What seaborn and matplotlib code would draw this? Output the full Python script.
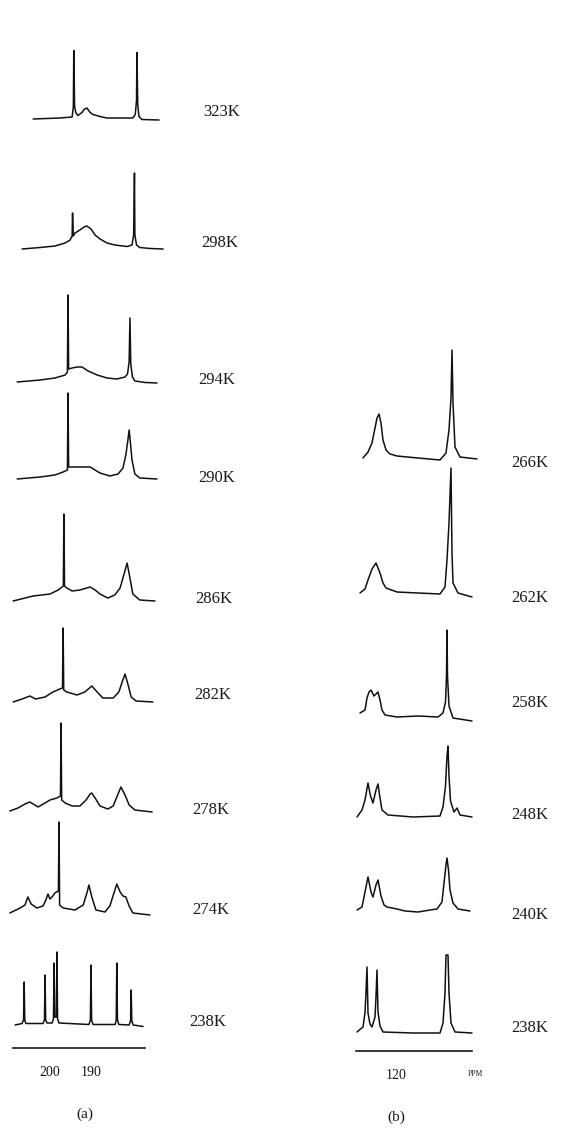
import pandas as pd
import matplotlib.pyplot as plt
import seaborn as sns

sns.set_theme(style='white')
plt.rcParams['font.family'] = ['Liberation Serif', 'DejaVu Serif']

W, H = 562, 1136

# ---- panel (a): (ppm, intensity) ----
a323 = [(204.1, -0.5), (197.6, 0.5), (194.6, 1.5), (194.3, 12), (194.2, 68), (194.0, 12), (193.7, 6),
        (193.2, 3), (192.2, 6), (191.7, 9), (191.0, 10.5), (190.2, 6), (189.5, 4), (187.8, 2), (186.1, 0.5),
        (179.8, 0.5), (179.2, 4), (178.9, 18), (178.8, 66), (178.6, 14), (178.3, 2), (177.6, -1), (173.4, -1.5)]
a298 = [(206.8, -1), (202.4, 0.5), (198.8, 2), (196.3, 5), (195.1, 8), (194.6, 12), (194.5, 35), (194.3, 12),
        (193.9, 15), (192.7, 18), (191.7, 21), (191.0, 22), (190.0, 19), (189.0, 13), (187.8, 9), (186.1, 5),
        (184.2, 3), (181.2, 1.5), (180.0, 3), (179.6, 13), (179.4, 75), (179.3, 13), (178.9, 3), (178.1, 0.5),
        (175.6, -0.5), (172.4, -1)]
a294 = [(208.0, 0), (202.4, 2), (198.8, 4), (196.3, 7), (195.75, 10), (195.6, 87), (195.45, 13), (194.6, 14),
        (193.4, 15), (192.2, 15), (190.7, 11), (188.5, 7), (186.1, 4), (183.7, 3), (181.7, 5), (181.1, 8),
        (180.7, 20), (180.5, 64), (180.3, 18), (179.9, 5), (179.3, 1), (176.8, -0.5), (173.9, -1)]
a290 = [(208.0, 0), (202.4, 2), (198.8, 4), (196.8, 7), (195.75, 9), (195.6, 86), (195.45, 12), (194.6, 12),
        (192.7, 12), (190.2, 12), (189.0, 9), (187.8, 6), (185.4, 3), (183.4, 5), (182.2, 11), (181.5, 24),
        (181.0, 39), (180.7, 49), (180.45, 39), (180.0, 19), (179.3, 5), (178.1, 1), (173.9, 0)]
a286 = [(209.0, -1), (204.1, 4), (200.0, 6), (198.0, 10), (196.75, 14), (196.6, 86), (196.45, 14), (195.9, 12),
        (194.6, 9), (192.7, 10), (190.2, 13), (189.0, 10), (187.8, 6), (185.9, 2), (184.2, 5), (182.9, 12),
        (182.0, 25), (181.2, 37), (180.5, 22), (179.8, 6), (178.1, 0), (174.4, -1)]
a282 = [(209.0, 0), (206.8, 3), (204.9, 6), (203.5, 3), (201.2, 5), (199.3, 10), (197.6, 13), (196.95, 14),
        (196.8, 74), (196.65, 12), (195.9, 10), (193.4, 7), (191.5, 10), (189.8, 16), (188.5, 10), (187.1, 4),
        (184.6, 4), (183.2, 10), (182.4, 20), (181.7, 28), (181.0, 18), (180.2, 5), (179.0, 1), (174.9, 0)]
a278 = [(209.8, -1), (207.8, 2), (206.1, 6), (204.9, 8), (202.9, 3), (201.2, 7), (200.0, 10), (198.3, 12),
        (197.45, 14), (197.3, 87), (197.15, 10), (196.3, 7), (194.6, 4), (192.7, 4), (191.2, 10), (190.2, 16),
        (189.8, 17), (189.0, 12), (187.8, 4), (185.9, 1), (184.6, 4), (183.7, 13), (182.7, 23), (181.7, 15),
        (180.7, 5), (179.3, 0), (175.1, -2)]
a274 = [(209.8, -1), (207.3, 4), (206.1, 7), (205.4, 15), (204.6, 8), (203.2, 4), (201.7, 6), (201.0, 12),
        (200.5, 18), (200.0, 13), (199.3, 16), (198.8, 19), (197.95, 21), (197.8, 90), (197.65, 7), (196.8, 4),
        (193.9, 2), (191.9, 7), (191.0, 19), (190.5, 27), (189.8, 15), (188.8, 2), (186.6, 0), (185.4, 6),
        (184.4, 19), (183.7, 28), (182.9, 20), (182.2, 16), (181.5, 15), (180.7, 6), (179.8, -1), (175.6, -3)]
a238 = [(208.5, 0), (206.8, 1.5), (206.45, 5), (206.3, 43), (206.15, 5), (205.9, 1.5), (201.7, 1.5),
        (201.35, 5), (201.2, 50), (201.05, 5), (200.7, 2), (199.5, 2), (199.15, 6), (199.0, 62), (198.85, 8),
        (198.45, 8), (198.3, 73), (198.15, 6), (197.8, 2), (190.5, 0.5), (190.15, 5), (190.0, 60), (189.85, 5),
        (189.5, 0.5), (184.1, 0.5), (183.85, 5), (183.7, 62), (183.55, 5), (183.2, 0.5), (180.7, 0),
        (180.35, 4), (180.2, 35), (180.05, 4), (179.7, 0), (177.3, -1.5)]

temps_a = ['323K', '298K', '294K', '290K', '286K', '282K', '278K', '274K', '238K']
spectra_a = [a323, a298, a294, a290, a286, a282, a278, a274, a238]
ticks_a = [200, 190]

# ---- panel (b) ----
b266 = [(133.2, 0), (131.2, 6), (129.6, 15), (128.4, 30), (127.6, 40), (126.8, 44), (126.0, 35), (125.2, 18),
        (124.0, 8), (122.4, 4), (119.6, 2), (111.2, 0), (102.4, -2), (100.0, 5), (98.8, 28), (98.0, 60),
        (97.6, 108), (97.2, 55), (96.4, 11), (94.4, 1), (87.6, -1)]
b262 = [(134.4, 0), (132.4, 4), (131.2, 13), (129.6, 24), (128.0, 30), (126.4, 20), (125.2, 10), (124.0, 5),
        (119.6, 1), (111.2, 0), (102.4, -1), (100.4, 6), (99.6, 33), (98.8, 70), (98.0, 125), (97.6, 40),
        (97.2, 10), (95.2, 0), (89.6, -4)]
b258 = [(134.4, 3), (132.4, 6), (131.6, 18), (130.8, 24), (130.0, 26), (128.8, 20), (128.0, 22), (127.2, 24),
        (126.4, 16), (125.6, 6), (124.4, 1), (119.6, -1), (111.2, 0), (103.2, -1), (101.2, 3), (100.2, 14),
        (99.8, 40), (99.6, 86), (99.4, 40), (98.8, 10), (97.2, -2), (89.6, -5)]
b248 = [(135.6, -1), (133.6, 6), (132.4, 16), (131.2, 33), (130.2, 20), (129.2, 13), (128.0, 26), (127.2, 32),
        (126.4, 18), (125.6, 6), (123.2, 1), (113.2, -1), (102.4, 0), (101.2, 9), (100.2, 30), (99.6, 60),
        (99.2, 70), (98.8, 40), (98.2, 15), (96.8, 4), (95.6, 8), (94.4, 1), (89.6, -1)]
b240 = [(135.6, 0), (133.6, 3), (132.4, 18), (131.2, 33), (130.0, 18), (129.2, 13), (128.0, 25), (127.2, 30),
        (126.0, 14), (124.8, 5), (123.6, 3), (119.6, 1), (116.4, -1), (111.2, -2), (106.4, 0), (103.6, 1),
        (101.6, 8), (100.8, 27), (100.0, 45), (99.6, 52), (99.0, 40), (98.4, 20), (97.2, 7), (95.2, 1),
        (90.4, -1)]
b238 = [(135.6, 0), (133.2, 5), (132.4, 19), (132.0, 40), (131.6, 65), (131.2, 19), (130.4, 8), (129.6, 5),
        (128.4, 15), (128.0, 35), (127.6, 62), (127.2, 20), (126.4, 6), (125.2, 0), (113.2, -1), (102.4, -1),
        (101.2, 9), (100.4, 39), (100.0, 77), (99.2, 77), (98.8, 39), (98.0, 9), (96.4, 0), (89.6, -1)]

temps_b = ['266K', '262K', '258K', '248K', '240K', '238K']
spectra_b = [b266, b262, b258, b248, b240, b238]
ticks_b = [120]

# ---- layout (pixel rows of each baseline / label) ----
base_a = [118.5, 248, 382, 479, 600, 702, 810, 912, 1025]
lab_a = [(222, 112), (220, 243), (217, 380), (217, 478), (214, 599), (213, 695), (211, 810), (211, 910), (208, 1022)]
base_b = [458, 593, 716, 816, 910, 1032]
lab_b = [(530, 463), (530, 598), (530, 703), (530, 815), (530, 915), (530, 1028)]

fig = plt.figure(figsize=(W / 100, H / 100), dpi=100)


def px_axes(x0, x1, y_top, y_bot):
    return fig.add_axes([x0 / W, 1 - y_bot / H, (x1 - x0) / W, (y_bot - y_top) / H])


def draw_panel(ax, spectra, bases, labels, temps, axis_row, xlim, ticks):
    for spec, base, lab, temp in zip(spectra, bases, labels, temps):
        df = pd.DataFrame(spec, columns=['ppm', 'intensity'])
        df['y'] = df['intensity'] + (axis_row - base)
        sns.lineplot(data=df, x='ppm', y='y', sort=False, estimator=None,
                     color='#111111', linewidth=1.1, ax=ax)
        fig.text(lab[0] / W, 1 - lab[1] / H, temp, ha='center', va='center',
                 fontsize=12, color='#1a1a1a')
    for ln in ax.get_lines():
        ln.set_clip_on(False)
    ax.set_xlim(*xlim)
    ax.set_ylim(0, axis_row - 40)
    ax.set_xticks(ticks)
    ax.set_xticklabels([str(t) for t in ticks])
    ax.set_yticks([])
    ax.set_xlabel('')
    ax.set_ylabel('')
    for s in ['top', 'left', 'right']:
        ax.spines[s].set_visible(False)
    ax.spines['bottom'].set_color('#151515')
    ax.spines['bottom'].set_linewidth(1.2)
    ax.tick_params(axis='x', length=2, width=0.8, pad=11, labelsize=10, colors='#151515')
    ax.patch.set_alpha(0)


ax_a = px_axes(13, 145, 40, 1048)
draw_panel(ax_a, spectra_a, base_a, lab_a, temps_a, 1048, (209.02, 176.83), ticks_a)

ax_b = px_axes(356, 472, 40, 1051)
draw_panel(ax_b, spectra_b, base_b, lab_b, temps_b, 1051, (136.0, 89.6), ticks_b)

fig.text(475 / W, 1 - 1074 / H, 'PPM', ha='center', va='center', fontsize=5.5, color='#1a1a1a')
fig.text(85 / W, 1 - 1114 / H, '(a)', ha='center', va='center', fontsize=11, color='#1a1a1a')
fig.text(396 / W, 1 - 1117 / H, '(b)', ha='center', va='center', fontsize=11, color='#1a1a1a')

fig.savefig('out.png', dpi=100)
